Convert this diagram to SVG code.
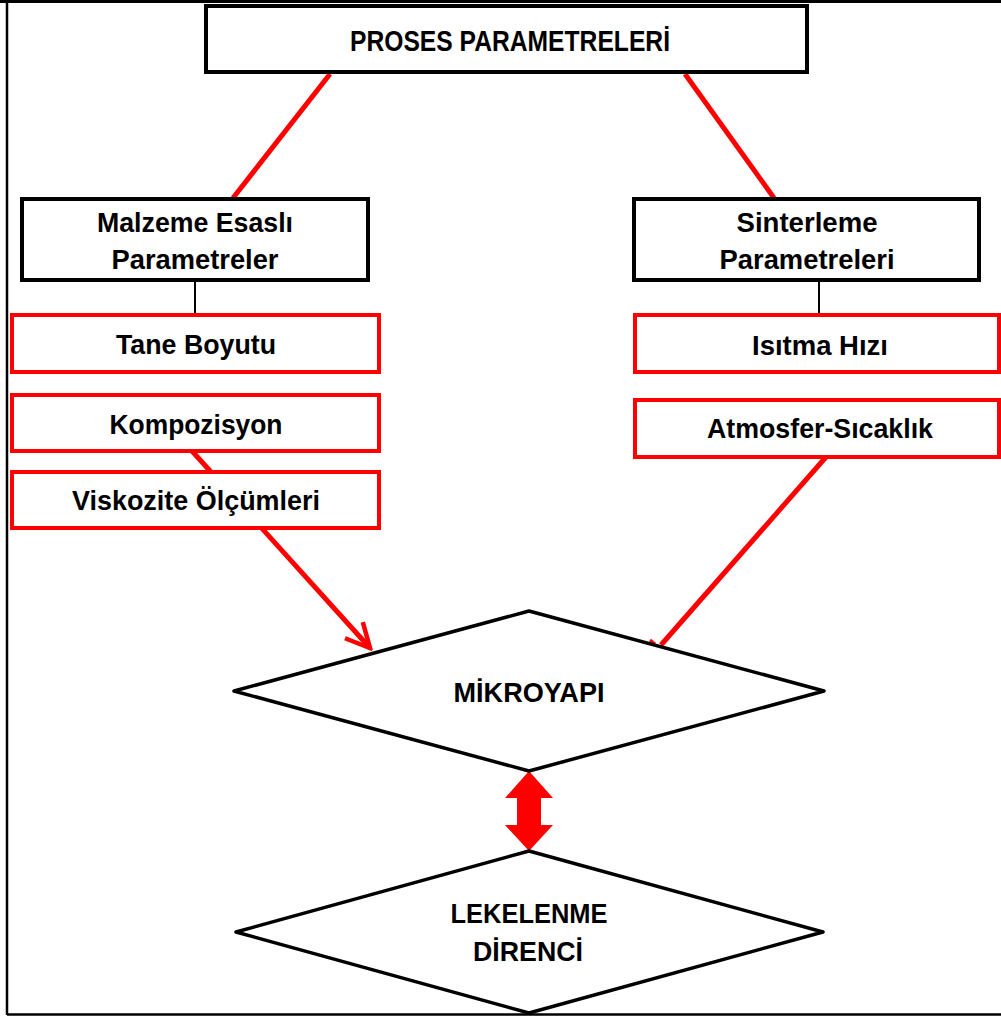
<svg xmlns="http://www.w3.org/2000/svg" width="1001" height="1019" viewBox="0 0 1001 1019">
<style>
text{font-family:"Liberation Sans",Arial,sans-serif;font-weight:bold;fill:#000;text-anchor:middle}
.bb{fill:#fff;stroke:#000;stroke-width:4}
.rb{fill:#fff;stroke:#f00;stroke-width:4}
.dm{fill:#fff;stroke:#000;stroke-width:3.5;stroke-linejoin:round}
.rl{stroke:#f00;stroke-width:5;fill:none}
.kl{stroke:#000;stroke-width:2;fill:none}
.t{font-size:27px}
</style>
<defs>
<marker id="arr" viewBox="0 0 20 20" refX="18" refY="10" markerWidth="6" markerHeight="6" markerUnits="strokeWidth" orient="auto">
<path d="M2 2 L18 10 L2 18" fill="none" stroke="#f00" stroke-width="3"/>
</marker>
</defs>
<rect x="0" y="0" width="1001" height="1019" fill="#fff"/>
<g id="frame">
<line x1="0" y1="1.5" x2="1001" y2="1.5" stroke="#000" stroke-width="3"/>
<line x1="7" y1="0" x2="7" y2="1015" stroke="#000" stroke-width="2.5"/>
<line x1="7" y1="1014.5" x2="1001" y2="1014.5" stroke="#000" stroke-width="2.5"/>
</g>
<g id="connectors">
<line class="rl" x1="330" y1="74" x2="233" y2="198"/>
<line class="rl" x1="685" y1="74" x2="774" y2="198"/>
<line class="kl" x1="195" y1="280" x2="195" y2="315"/>
<line class="kl" x1="819" y1="280" x2="819" y2="315"/>
<line class="rl" x1="192" y1="451" x2="370" y2="648" marker-end="url(#arr)"/>
<line class="rl" x1="826" y1="457" x2="661" y2="645"/>
<line x1="650" y1="640" x2="655" y2="644" stroke="#f00" stroke-width="3"/>
<polygon id="double-arrow" fill="#f00" points="529,771 553,798 541,798 541,825 553,825 529,851 505,825 517,825 517,798 505,798"/>
</g>
<g id="proses">
<rect class="bb" x="206" y="6" width="601" height="66"/>
<text x="510" y="51" font-size="29" textLength="320" lengthAdjust="spacingAndGlyphs">PROSES PARAMETRELERİ</text>
</g>
<g id="malzeme">
<rect class="bb" x="22" y="199" width="346" height="81"/>
<text class="t" x="195" y="232" textLength="196" lengthAdjust="spacingAndGlyphs">Malzeme Esaslı</text>
<text class="t" x="195" y="269" textLength="167" lengthAdjust="spacingAndGlyphs">Parametreler</text>
</g>
<g id="sinterleme">
<rect class="bb" x="634" y="199" width="345" height="81"/>
<text class="t" x="807" y="232" textLength="141" lengthAdjust="spacingAndGlyphs">Sinterleme</text>
<text class="t" x="807" y="269" textLength="175" lengthAdjust="spacingAndGlyphs">Parametreleri</text>
</g>
<g id="tane">
<rect class="rb" x="12" y="315" width="367" height="57"/>
<text class="t" x="196" y="354" textLength="160" lengthAdjust="spacingAndGlyphs">Tane Boyutu</text>
</g>
<g id="kompozisyon">
<rect class="rb" x="12" y="395" width="367" height="56"/>
<text class="t" x="196" y="434" textLength="173" lengthAdjust="spacingAndGlyphs">Kompozisyon</text>
</g>
<g id="viskozite">
<rect class="rb" x="12" y="472" width="367" height="56"/>
<text class="t" x="196" y="510" textLength="248" lengthAdjust="spacingAndGlyphs">Viskozite Ölçümleri</text>
</g>
<g id="isitma">
<rect class="rb" x="635" y="315" width="364" height="57"/>
<text class="t" x="820" y="355" textLength="136" lengthAdjust="spacingAndGlyphs">Isıtma Hızı</text>
</g>
<g id="atmosfer">
<rect class="rb" x="635" y="400" width="364" height="57"/>
<text class="t" x="820" y="438" textLength="226" lengthAdjust="spacingAndGlyphs">Atmosfer-Sıcaklık</text>
</g>
<g id="mikroyapi">
<polygon class="dm" points="529,611 824,691 529,771 234,691"/>
<text x="529" y="702" font-size="28" textLength="151" lengthAdjust="spacingAndGlyphs">MİKROYAPI</text>
</g>
<g id="lekelenme">
<polygon class="dm" points="529,851 823,932 529,1013 236,932"/>
<text x="529" y="923" font-size="28" textLength="157" lengthAdjust="spacingAndGlyphs">LEKELENME</text>
<text x="528" y="961" font-size="28" textLength="110" lengthAdjust="spacingAndGlyphs">DİRENCİ</text>
</g>
</svg>
